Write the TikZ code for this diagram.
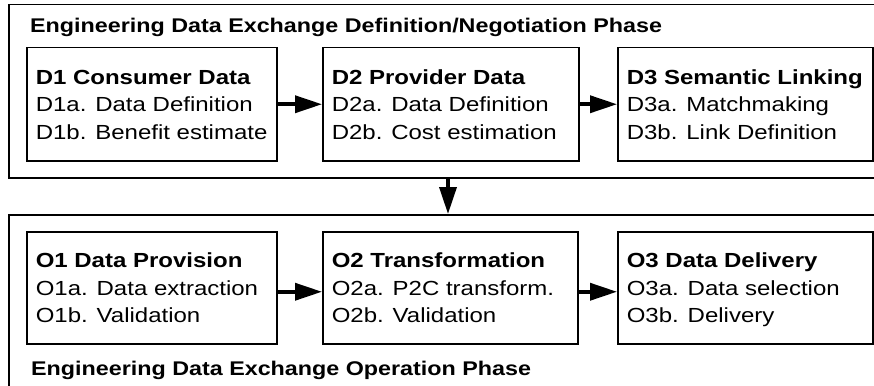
\documentclass[tikz,border=0pt]{standalone}
\usepackage{fontspec}
\setmainfont{Liberation Sans}
\usetikzlibrary{arrows.meta}

% squeezed text block: lines of a stage, slightly compressed vertically;
% \spaceskip is reset because align=left sets it from the outer font
\newcommand{\stagetext}[3]{\raisebox{0pt}[\dimexpr\height+4pt\relax][\depth]{%
  \scalebox{1}[0.85]{\fontsize{24}{32.4}\selectfont\spaceskip=0pt\xspaceskip=0pt
  \begin{tabular}{@{}l@{}}\textbf{#1}\\#2\\#3\end{tabular}}}}
\newcommand{\phasetitle}[1]{\scalebox{1}[0.85]{\fontsize{23.3}{28}\selectfont\textbf{#1}}}

\tikzset{
  phasebox/.style={draw, line width=1.5pt, anchor=north west, inner sep=0pt},
  stagebox/.style={draw, line width=1.5pt, anchor=north west, inner xsep=9pt,
    inner ysep=0pt, align=left},
  flow/.style={line width=3.5pt, -{Triangle[length=27pt,width=17pt]}},
}

\begin{document}
\begin{tikzpicture}[x=1pt, y=-1pt]
\useasboundingbox (0,0) rectangle (874,385);

% phase frames (their right side runs past the page edge)
\node[phasebox, minimum width=882pt, minimum height=173pt] (defp) at (8,4) {};
\node[phasebox, minimum width=882pt, minimum height=186pt] (oper) at (8,214) {};

\node[anchor=base west, inner sep=0pt] (deft) at (30,33)
  {\phasetitle{Engineering Data Exchange Definition/Negotiation Phase}};
\node[anchor=base west, inner sep=0pt] (opt) at (31,375)
  {\phasetitle{Engineering Data Exchange Operation Phase}};

% definition / negotiation stages
\node[stagebox, text width=232pt, minimum height=113pt] (D1) at (26,47)
  {\stagetext{D1 Consumer Data}{D1a. Data Definition}{D1b. Benefit estimate}};
\node[stagebox, text width=238pt, minimum height=113pt] (D2) at (322,47)
  {\stagetext{D2 Provider Data}{D2a. Data Definition}{D2b. Cost estimation}};
\node[stagebox, text width=237pt, minimum height=113pt] (D3) at (617,47)
  {\stagetext{D3 Semantic Linking}{D3a. Matchmaking}{D3b. Link Definition}};

% operation stages
\node[stagebox, text width=232pt, minimum height=112pt] (O1) at (26,231)
  {\stagetext{O1 Data Provision}{O1a. Data extraction}{O1b. Validation}};
\node[stagebox, text width=237pt, minimum height=112pt] (O2) at (322,231)
  {\stagetext{O2 Transformation}{O2a. P2C transform.}{O2b. Validation}};
\node[stagebox, text width=237pt, minimum height=112pt] (O3) at (617,231)
  {\stagetext{O3 Data Delivery}{O3a. Data selection}{O3b. Delivery}};

% flow between stages
\draw[flow] (D1) -- (D2);
\draw[flow] (D2) -- (D3);
\draw[flow] ([yshift=-4pt]O1.east) -- ([yshift=-4pt]O2.west);
\draw[flow] ([yshift=-4pt]O2.east) -- ([yshift=-4pt]O3.west);

% from negotiation to operation
\coordinate (mid) at (448,0);
\draw[flow] (mid |- defp.south) -- (mid |- oper.north);
\end{tikzpicture}
\end{document}
